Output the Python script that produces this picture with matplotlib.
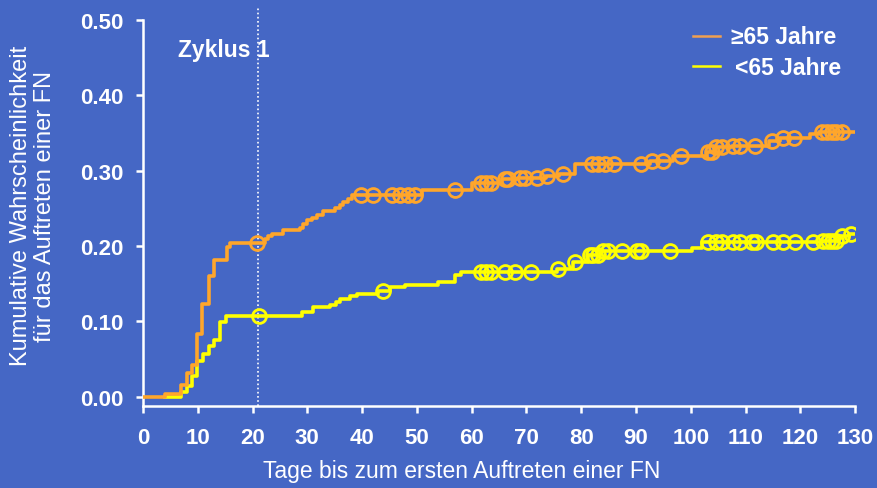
import numpy as np
import matplotlib
matplotlib.use("Agg")
import matplotlib.pyplot as plt
from matplotlib.lines import Line2D

plt.rcParams['font.family'] = ['Liberation Sans', 'DejaVu Sans']

# Kaplan-Meier style cumulative incidence, >=65 years
old_t = [0.0, 4.0, 7.0, 8.0, 8.9, 9.8, 10.7, 12.0, 13.0, 15.3, 15.9, 22.3, 22.9, 23.5,
         25.6, 28.7, 29.3, 29.9, 30.8, 31.7, 32.9, 35.1, 36.0, 36.6, 37.5, 38.1, 50.9,
         60.0, 65.5, 68.5, 73.5, 76.0, 78.9, 92.5, 96.8, 103.0, 104.3, 107.5, 114.3,
         116.3, 121.8, 123.5]
old_p = [0.000, 0.004, 0.016, 0.031, 0.042, 0.084, 0.123, 0.160, 0.182, 0.199, 0.204,
         0.210, 0.213, 0.216, 0.221, 0.224, 0.229, 0.235, 0.237, 0.241, 0.247, 0.250,
         0.255, 0.259, 0.263, 0.268, 0.274, 0.284, 0.289, 0.291, 0.293, 0.296, 0.309,
         0.313, 0.320, 0.325, 0.331, 0.333, 0.339, 0.344, 0.349, 0.352]
old_cens = [20.9, 39.8, 42.0, 45.4, 46.9, 48.4, 49.7, 57.0, 61.8, 62.7, 63.6, 66.1, 66.7,
            68.8, 69.7, 71.9, 73.8, 76.7, 81.9, 83.1, 84.4, 85.9, 91.0, 92.9, 94.9, 98.2,
            103.2, 103.8, 104.7, 105.7, 107.8, 109.0, 111.7, 114.8, 116.8, 118.9, 123.9,
            124.8, 125.7, 126.6, 127.6]

# <65 years
young_t = [4.0, 7.0, 8.0, 8.9, 9.8, 10.9, 12.0, 13.0, 14.1, 15.2, 29.0, 31.1, 34.1, 35.2,
           36.0, 37.8, 39.1, 43.0, 45.1, 47.8, 53.9, 57.0, 58.0, 75.5, 78.5, 81.2, 83.5,
           100.2, 102.0, 124.0, 127.0, 127.5, 128.8]
young_p = [0.000, 0.006, 0.015, 0.028, 0.047, 0.057, 0.068, 0.075, 0.099, 0.107, 0.113,
           0.119, 0.122, 0.126, 0.130, 0.134, 0.137, 0.141, 0.146, 0.149, 0.153, 0.161,
           0.166, 0.170, 0.179, 0.188, 0.193, 0.197, 0.205, 0.207, 0.211, 0.214, 0.216]
young_cens = [21.2, 43.9, 61.8, 62.7, 63.6, 66.1, 67.9, 70.8, 75.8, 78.9, 81.6, 82.2, 83.1,
              84.0, 84.9, 87.4, 90.1, 91.0, 96.2, 103.2, 104.7, 105.7, 107.8, 109.0, 111.1,
              112.0, 115.0, 116.9, 119.0, 122.4, 124.2, 125.0, 125.8, 126.6, 127.6, 129.2]

series_labels = ['\u226565 Jahre', '<65 Jahre']

x_end = 130.0
cycle_day = 21
x_ticks = list(range(0, 131, 10))
y_ticks = [0.0, 0.1, 0.2, 0.3, 0.4, 0.5]

BG = '#4567C5'
ORANGE = '#FFA62B'
YELLOW = '#FFFF00'


def step_value(times, probs, at):
    times = np.asarray(times)
    probs = np.asarray(probs)
    idx = np.searchsorted(times, at, side='right') - 1
    return probs[np.clip(idx, 0, None)]


fig = plt.figure(figsize=(8.77, 4.89), dpi=100, facecolor=BG)
ax = fig.add_axes([0.163, 0.168, 0.812, 0.789])
ax.set_facecolor(BG)

for t, p, cens, col, z in [(young_t, young_p, young_cens, YELLOW, 3),
                           (old_t, old_p, old_cens, ORANGE, 4)]:
    tt = list(t) + [x_end]
    pp = list(p) + [p[-1]]
    ax.step(tt, pp, where='post', color=col, lw=2.6, zorder=z)
    ax.plot(cens, step_value(t, p, cens), ls='none', marker='o', ms=10,
            mfc='none', mec=col, mew=2.0, zorder=z)

ax.axvline(cycle_day, ymin=0, ymax=1.03, color='white', lw=1.2, ls=(0, (1, 1.5)),
           clip_on=False, zorder=2)
ax.text(6.4, 0.4615, 'Zyklus 1', color='white', fontsize=16.5, fontweight='bold',
        va='center', ha='left')

ax.set_xlim(0, x_end)
ax.set_ylim(-0.012, 0.5)
ax.set_xticks(x_ticks)
ax.set_yticks(y_ticks)
ax.set_yticklabels([f'{v:.2f}' for v in y_ticks])
ax.tick_params(axis='both', colors='white', labelcolor='white', labelsize=16,
               width=1.8, length=5)
ax.tick_params(axis='y', pad=9)
ax.tick_params(axis='x', pad=10)
for lab in ax.get_xticklabels() + ax.get_yticklabels():
    lab.set_fontweight('bold')

for side in ['top', 'right']:
    ax.spines[side].set_visible(False)
for side in ['left', 'bottom']:
    ax.spines[side].set_color('white')
    ax.spines[side].set_linewidth(1.8)

# legend entries placed in figure coordinates
legend_rows = [(series_labels[0], '#F0A050', 0.9237, 0.8335, 0.923),
               (series_labels[1], YELLOW, 0.8624, 0.838, 0.859)]
for label, col, ly, tx, ty in legend_rows:
    fig.add_artist(Line2D([0.790, 0.821], [ly, ly], transform=fig.transFigure,
                          color=col, lw=1.8))
    fig.text(tx, ty, label, color='white', fontsize=16.5, fontweight='bold',
             ha='left', va='center')

fig.text(0.527, 0.035, 'Tage bis zum ersten Auftreten einer FN', color='white',
         fontsize=16.5, ha='center', va='center')
fig.text(0.038, 0.578, 'Kumulative Wahrscheinlichkeit\nfür das Auftreten einer FN',
         color='white', fontsize=17, ha='center', va='center', rotation=90,
         linespacing=1.12)

fig.savefig('out.png', dpi=100, facecolor=BG)
